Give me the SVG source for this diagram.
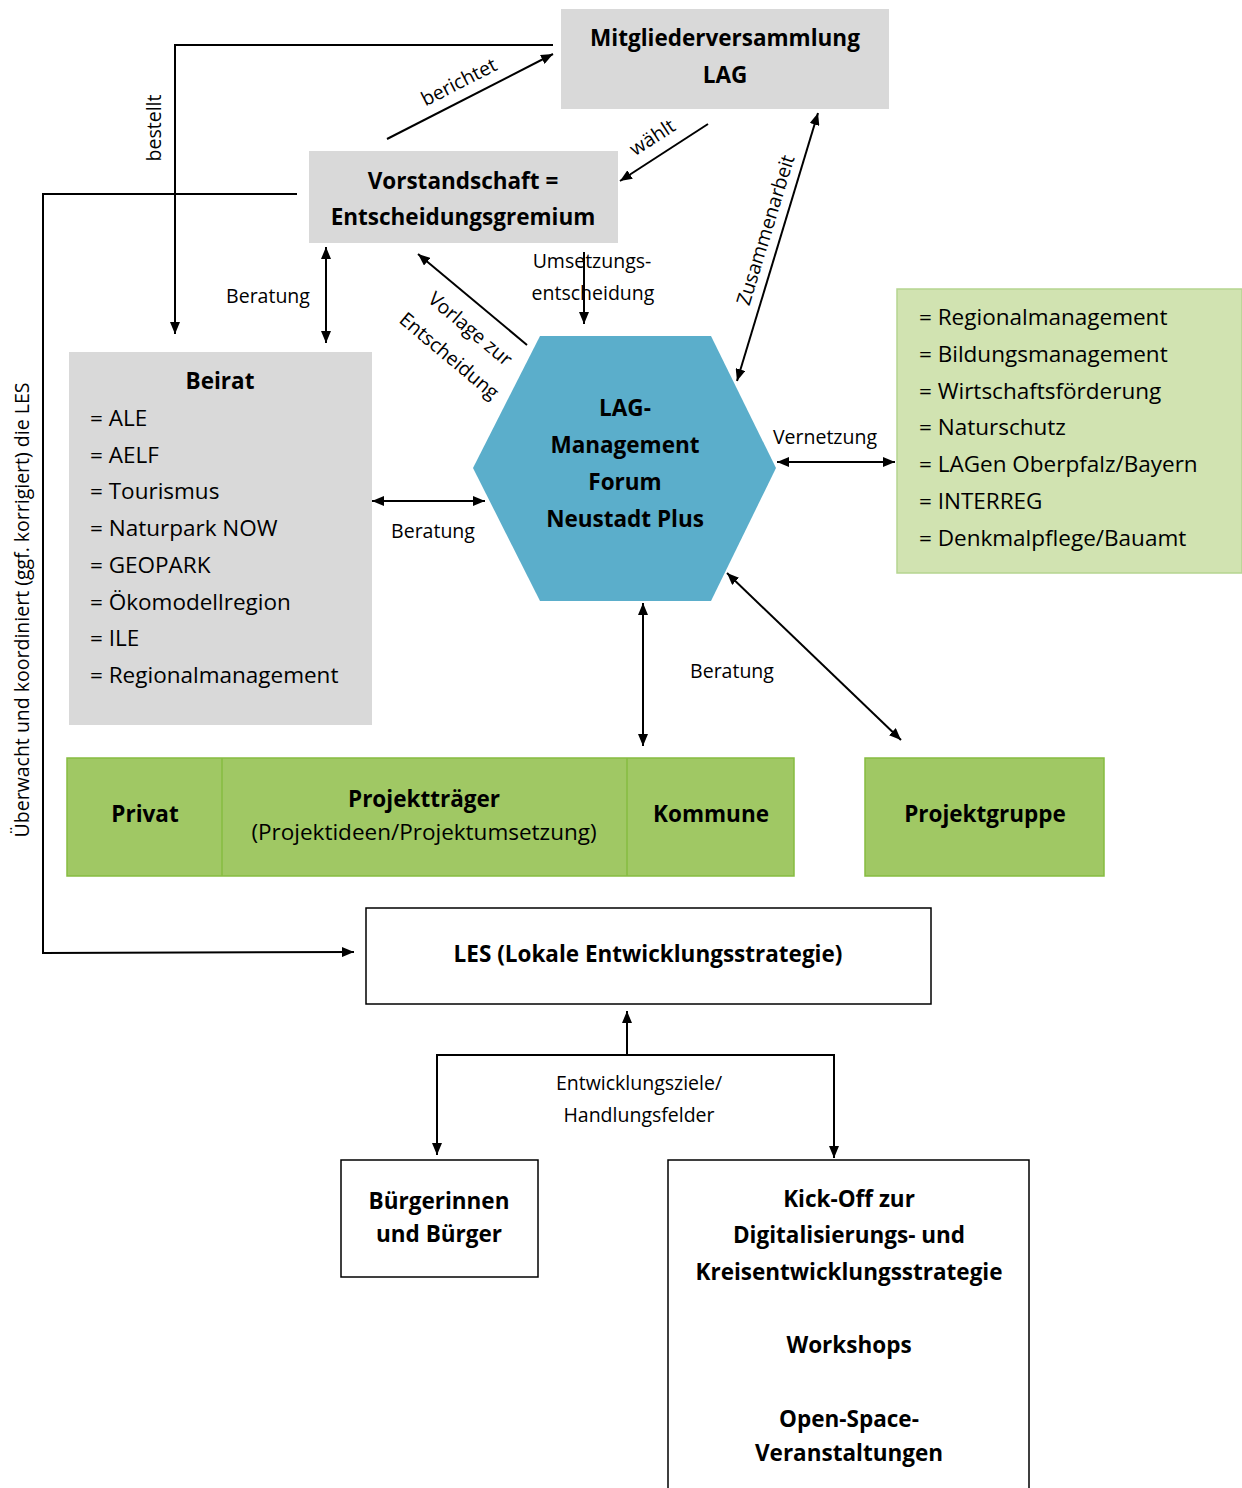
<svg xmlns="http://www.w3.org/2000/svg" width="1242" height="1488" viewBox="0 0 1242 1488">
<style>
text{font-family:"Open Sans","Noto Sans","DejaVu Sans",sans-serif;fill:#000}
.b{font-weight:bold;font-size:22.5px;text-anchor:middle}
.it{font-size:22.5px}
.lb{font-size:19.5px}
.c{text-anchor:middle}
.gray{fill:#d9d9d9}
.gl{fill:#a0c864;stroke:#86bc40;stroke-width:1.5}
.wb{fill:#fff;stroke:#000;stroke-width:1.5}
.ln{fill:none;stroke:#000;stroke-width:2}
</style>
<defs>
<marker id="ah" viewBox="0 0 12 10" refX="12" refY="5" markerWidth="12" markerHeight="10" markerUnits="userSpaceOnUse" orient="auto-start-reverse"><path d="M0,0 L12,5 L0,10 Z" fill="#000"/></marker>
</defs>
<rect width="1242" height="1488" fill="#fff"/>

<g id="mitglieder">
<rect class="gray" x="561" y="9" width="328" height="100"/>
<text class="b" x="725" y="46">Mitgliederversammlung</text>
<text class="b" x="725" y="83">LAG</text>
</g>
<g id="vorstand">
<rect class="gray" x="309" y="151" width="309" height="92"/>
<text class="b" x="463" y="189">Vorstandschaft =</text>
<text class="b" x="463" y="225">Entscheidungsgremium</text>
</g>
<g id="beirat">
<rect class="gray" x="69" y="352" width="303" height="373"/>
<text class="b" x="220" y="389">Beirat</text>
<text class="it" x="90" y="426">= ALE</text>
<text class="it" x="90" y="463">= AELF</text>
<text class="it" x="90" y="499">= Tourismus</text>
<text class="it" x="90" y="536">= Naturpark NOW</text>
<text class="it" x="90" y="573">= GEOPARK</text>
<text class="it" x="90" y="610">= Ökomodellregion</text>
<text class="it" x="90" y="646">= ILE</text>
<text class="it" x="90" y="683">= Regionalmanagement</text>
</g>
<g id="partner">
<rect x="897" y="289" width="345" height="284" fill="#d1e3b1" stroke="#b5d590" stroke-width="1.5"/>
<text class="it" x="919" y="325">= Regionalmanagement</text>
<text class="it" x="919" y="362">= Bildungsmanagement</text>
<text class="it" x="919" y="399">= Wirtschaftsförderung</text>
<text class="it" x="919" y="435">= Naturschutz</text>
<text class="it" x="919" y="472">= LAGen Oberpfalz/Bayern</text>
<text class="it" x="919" y="509">= INTERREG</text>
<text class="it" x="919" y="546">= Denkmalpflege/Bauamt</text>
</g>
<g id="lagmanagement">
<polygon points="540,336 711,336 776,468 711,601 540,601 473,468" fill="#5baecb"/>
<text class="b" x="625" y="416">LAG-</text>
<text class="b" x="625" y="453">Management</text>
<text class="b" x="625" y="490">Forum</text>
<text class="b" x="625" y="527">Neustadt Plus</text>
</g>
<g id="projekttraeger">
<rect class="gl" x="67" y="758" width="727" height="118"/>
<line x1="222" y1="758" x2="222" y2="876" stroke="#86bc40" stroke-width="1.5"/>
<line x1="627" y1="758" x2="627" y2="876" stroke="#86bc40" stroke-width="1.5"/>
<text class="b" x="145" y="822">Privat</text>
<text class="b" x="424" y="807">Projektträger</text>
<text class="it c" x="424" y="840">(Projektideen/Projektumsetzung)</text>
<text class="b" x="711" y="822">Kommune</text>
</g>
<g id="projektgruppe">
<rect class="gl" x="865" y="758" width="239" height="118"/>
<text class="b" x="985" y="822">Projektgruppe</text>
</g>
<g id="les">
<rect class="wb" x="366" y="908" width="565" height="96"/>
<text class="b" x="648" y="962">LES (Lokale Entwicklungsstrategie)</text>
</g>
<g id="buerger">
<rect class="wb" x="341" y="1160" width="197" height="117"/>
<text class="b" x="439" y="1209">Bürgerinnen</text>
<text class="b" x="439" y="1242">und Bürger</text>
</g>
<g id="kickoff">
<path d="M668,1490 V1160 H1029 V1490" class="wb"/>
<text class="b" x="849" y="1207">Kick-Off zur</text>
<text class="b" x="849" y="1243">Digitalisierungs- und</text>
<text class="b" x="849" y="1280">Kreisentwicklungsstrategie</text>
<text class="b" x="849" y="1353">Workshops</text>
<text class="b" x="849" y="1427">Open-Space-</text>
<text class="b" x="849" y="1461">Veranstaltungen</text>
</g>

<g id="connectors">
<path class="ln" d="M553,45 H175 V334" marker-end="url(#ah)"/>
<path class="ln" d="M387,139 L553,54" marker-end="url(#ah)"/>
<path class="ln" d="M708,124 L620,181" marker-end="url(#ah)"/>
<path class="ln" d="M297,194 H43 V953 L354,952" marker-end="url(#ah)"/>
<path class="ln" d="M326,247 V343" marker-start="url(#ah)" marker-end="url(#ah)"/>
<path class="ln" d="M527,345 L418,254" marker-end="url(#ah)"/>
<path class="ln" d="M584,252 V324" marker-end="url(#ah)"/>
<path class="ln" d="M818,113 L737,381" marker-start="url(#ah)" marker-end="url(#ah)"/>
<path class="ln" d="M777,462 H895" marker-start="url(#ah)" marker-end="url(#ah)"/>
<path class="ln" d="M372,501 H485" marker-start="url(#ah)" marker-end="url(#ah)"/>
<path class="ln" d="M643,603 V746" marker-start="url(#ah)" marker-end="url(#ah)"/>
<path class="ln" d="M727,573 L901,740" marker-start="url(#ah)" marker-end="url(#ah)"/>
<path class="ln" d="M627,1055 V1011" marker-end="url(#ah)"/>
<path class="ln" d="M437,1155 V1055 H834 V1158" marker-start="url(#ah)" marker-end="url(#ah)"/>

<text class="lb c" transform="translate(161,128) rotate(-90)">bestellt</text>
<text class="lb c" transform="translate(462,88) rotate(-27)">berichtet</text>
<text class="lb c" transform="translate(656,143) rotate(-33)">wählt</text>
<text class="lb c" transform="translate(29,610) rotate(-90)">Überwacht und koordiniert (ggf. korrigiert) die LES</text>
<text class="lb c" x="268" y="303">Beratung</text>
<text class="lb c" transform="translate(466,334) rotate(40)">Vorlage zur</text>
<text class="lb c" transform="translate(445,361) rotate(40)">Entscheidung</text>
<text class="lb c" x="592" y="268">Umsetzungs-</text>
<text class="lb c" x="593" y="300">entscheidung</text>
<text class="lb c" transform="translate(772,232) rotate(-73)">Zusammenarbeit</text>
<text class="lb c" x="825" y="444">Vernetzung</text>
<text class="lb c" x="433" y="538">Beratung</text>
<text class="lb c" x="732" y="678">Beratung</text>
<text class="lb c" x="639" y="1090">Entwicklungsziele/</text>
<text class="lb c" x="639" y="1122">Handlungsfelder</text>
</g>
</svg>
